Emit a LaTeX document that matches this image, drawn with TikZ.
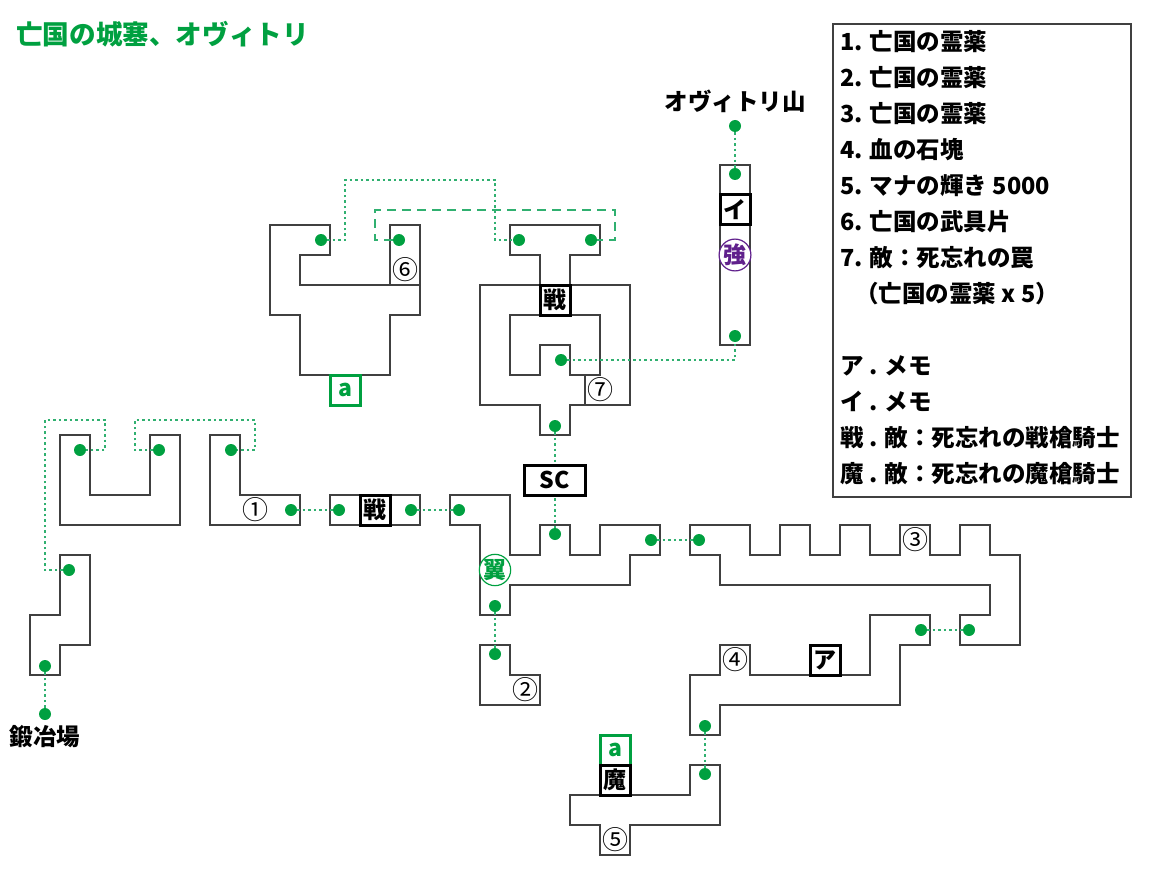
\documentclass[tikz,border=0pt]{standalone}
\usepackage{fontspec}
\setmainfont{Noto Sans CJK JP}
\newfontfamily\cnumfont{Noto Sans CJK JP}
\usepackage{color}
\definecolor{wallgray}{HTML}{404040}
\definecolor{dotgreen}{HTML}{00A040}
\definecolor{linkgreen}{HTML}{30B070}
\definecolor{bosspurple}{HTML}{60208C}
\tikzset{
  room/.style={draw=wallgray,line width=2pt},
  spot/.style={circle,fill=dotgreen,inner sep=0pt,minimum size=12pt},
  linkdot/.style={draw=linkgreen,line width=1.8pt,dash pattern=on 2.5pt off 3pt},
  linkdash/.style={draw=linkgreen,line width=1.8pt,dash pattern=on 9pt off 6pt},
  tag/.style={draw=black,fill=white,line width=3pt,inner sep=0pt,minimum size=30pt,font=\bfseries\fontsize{23}{23}\selectfont},
  gtag/.style={tag,draw=dotgreen,text=dotgreen},
  num/.style={inner sep=0pt,font=\cnumfont\fontsize{26}{26}\selectfont},
  ring/.style={circle,draw,fill=white,line width=1.2pt,inner sep=0pt,minimum size=30pt,font=\bfseries\fontsize{23}{23}\selectfont},
  label/.style={inner sep=0pt,font=\bfseries\fontsize{23.5}{23.5}\selectfont,text height=20.7pt,text depth=2.8pt}
}
\begin{document}
\begin{tikzpicture}[line cap=butt,line join=miter,x=1pt,y=-1pt]
\useasboundingbox (0,0) rectangle (1155,885);
\node [label,anchor=west,text=dotgreen,font=\bfseries\fontsize{26.6}{26.6}\selectfont] (title) at (16,36) {亡国の城塞、オヴィトリ};

%部屋
\draw[room] (270,225)--(330,225)--(330,255)--(300,255)--(300,285)--(390,285)--(390,225)--(420,225)--(420,315)--(390,315)--(390,375)--(300,375)--(300,315)--(270,315)--cycle;
\draw[room] (390,285)--(420,285);
\draw[room] (510,225)--(600,225)--(600,255)--(570,255)--(570,285)--(630,285)--(630,405)--(570,405)--(570,435)--(540,435)--(540,405)--(480,405)--(480,285)--(540,285)--(540,255)--(510,255)--cycle;
\draw[room] (510,315)--(600,315)--(600,375)--(570,375)--(570,345)--(540,345)--(540,375)--(510,375)--cycle;
\draw[room] (585,375)--(585,405);
\draw[room] (720,165) rectangle (750,345);
\draw[room] (60,435)--(90,435)--(90,495)--(150,495)--(150,435)--(180,435)--(180,525)--(60,525)--cycle;
\draw[room] (210,435)--(240,435)--(240,495)--(300,495)--(300,525)--(210,525)--cycle;
\draw[room] (60,555)--(90,555)--(90,645)--(60,645)--(60,675)--(30,675)--(30,615)--(60,615)--cycle;
\draw[room] (330,495) rectangle (420,525);
\draw[room] (450,495)--(510,495)--(510,555)--(540,555)--(540,525)--(570,525)--(570,555)--(600,555)--(600,525)--(660,525)--(660,555)--(630,555)--(630,585)--(510,585)--(510,615)--(480,615)--(480,525)--(450,525)--cycle;
\draw[room] (480,645)--(510,645)--(510,675)--(540,675)--(540,705)--(480,705)--cycle;
\draw[room] (690,525)--(750,525)--(750,555)--(780,555)--(780,525)--(810,525)--(810,555)--(840,555)--(840,525)--(870,525)--(870,555)--(900,555)--(900,525)--(930,525)--(930,555)--(960,555)--(960,525)--(990,525)--(990,555)--(1020,555)--(1020,645)--(960,645)--(960,615)--(990,615)--(990,585)--(720,585)--(720,555)--(690,555)--cycle;
\draw[room] (870,615)--(930,615)--(930,645)--(900,645)--(900,705)--(720,705)--(720,735)--(690,735)--(690,675)--(720,675)--(720,645)--(750,645)--(750,675)--(870,675)--cycle;
\draw[room] (690,765)--(720,765)--(720,825)--(630,825)--(630,855)--(600,855)--(600,825)--(570,825)--(570,795)--(690,795)--cycle;

%点
\foreach \n/\x/\y in {smith/45/714,a/45/666,b/69/570,c/80/450,d/159/450,e/231/450,f/291/510,g/339/510,h/411/510,i/459/510,
  j/321/240,k/399/240,l/519/240,m/591/240,n/561/360,o/555/426,p/555/534,q/651/540,r/699/540,s/495/606,t/495/654,
  u/921/630,v/969/630,w/705/726,x/705/774,peak/735/126,y/735/174,z/735/336}
{
\node[spot] (\n) at (\x,\y) {};
}

%つながり
\draw[linkdot] (smith)--(a);
\draw[linkdot] (b)--(45,570)--(45,420)--(105,420)--(105,450)--(c);
\draw[linkdot] (d)--(135,450)--(135,420)--(255,420)--(255,450)--(e);
\draw[linkdot] (f)--(g);
\draw[linkdot] (h)--(i);
\draw[linkdot] (j)--(345,240)--(345,180)--(495,180)--(495,240)--(l);
\draw[linkdash] (k)--(375,240)--(375,210)--(615,210)--(615,240)--(m);
\draw[linkdot] (n)--(735,360)--(z);
\draw[linkdot] (o)--(p);
\draw[linkdot] (q)--(r);
\draw[linkdot] (s)--(t);
\draw[linkdot] (u)--(v);
\draw[linkdot] (w)--(x);
\draw[linkdot] (peak)--(y);

%しるし
\node[tag] (sen1) at (375,510) {戦};
\node[tag] (sen2) at (555,300) {戦};
\node[tag,minimum width=61pt] (sc) at (555,480) {SC};
\node[tag] (memoA) at (825,660) {ア};
\node[tag] (memoI) at (735,210) {イ};
\node[gtag] (gate1) at (345,390) {a};
\node[gtag] (gate2) at (615,750) {a};
\node[tag] (ma) at (615,780) {魔};
\node[ring,draw=dotgreen,text=dotgreen] (wing) at (495,570) {翼};
\node[ring,draw=bosspurple,text=bosspurple] (strong) at (735,255) {強};
\foreach \n/\x/\y/\t in {n1/255/510/①,n2/525/690/②,n3/915/540/③,n4/735/660/④,n5/615/840/⑤,n6/405/270/⑥,n7/600/390/⑦}
{
\node[num] (\n) at (\x,\y) {\t};
}
\node[label] (mtn) at (735,102) {オヴィトリ山};
\node[label] (forge) at (45,737) {鍛冶場};

%凡例
\draw[room] (833,24) rectangle (1131,497);
\foreach \n/\x/\y/\t in {1/840/42/1. 亡国の霊薬,2/840/78/2. 亡国の霊薬,3/840/114/3. 亡国の霊薬,4/840/150/4. 血の石塊,
  5/840/186/5. マナの輝き 5000,6/840/222/6. 亡国の武具片,7/840/258/7. 敵：死忘れの罠,8/855/294/（亡国の霊薬 x 5）,
  a/840/366/ア . メモ,i/840/402/イ . メモ,s/840/438/戦 . 敵：死忘れの戦槍騎士,m/840/474/魔 . 敵：死忘れの魔槍騎士}
{
\node[label,anchor=west] (leg\n) at (\x,\y) {\t};
}
\end{tikzpicture}
\end{document}
